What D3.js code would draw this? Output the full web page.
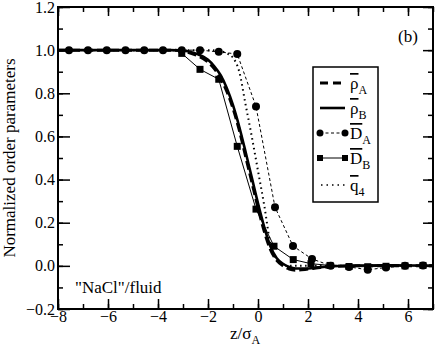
<!DOCTYPE html>
<html>
<head>
<meta charset="utf-8">
<script src="https://cdn.jsdelivr.net/npm/d3@7"></script>
<style>
body { margin: 0; background: #fff; }
svg text { font-family: "Liberation Serif", "Tinos", "DejaVu Serif", "Noto Serif", "Times New Roman", serif; fill: #000; }
</style>
</head>
<body>
<div id="chart"></div>
<script>
let width = 435;
let height = 349;
let margin = {left: 58, right: 2, top: 7, bottom: 40};
let serif = "'Liberation Serif', Tinos, 'DejaVu Serif', 'Noto Serif', 'Times New Roman', serif";

// profiles
let zRho = [-8, -7, -6, -5, -4, -3.5, -3, -2.5, -2, -1.75, -1.5, -1.25, -1, -0.75, -0.5, -0.25, 0, 0.25, 0.5, 0.75, 1, 1.25, 1.5, 2, 2.5, 3, 4, 5, 6, 7];
let rhoA = [1, 1, 1, 1, 1, 1, 0.995, 0.978, 0.945, 0.915, 0.87, 0.81, 0.73, 0.63, 0.51, 0.39, 0.27, 0.16, 0.075, 0.025, 0.0, -0.015, -0.02, -0.015, -0.008, -0.003, 0, 0, 0, 0];
let rhoB = [1, 1, 1, 1, 1, 1, 0.998, 0.985, 0.955, 0.925, 0.885, 0.825, 0.745, 0.645, 0.53, 0.41, 0.29, 0.18, 0.09, 0.035, 0.01, -0.005, -0.012, -0.012, -0.006, -0.002, 0.002, 0.003, 0.002, 0.002];

let zQ = [-8, -6, -4, -2, -1.5, -1.25, -1, -0.75, -0.5, -0.25, 0, 0.25, 0.5, 0.75, 1, 1.25, 1.5, 2, 3, 4, 5, 6, 7];
let q4 = [1, 1, 1, 1, 0.995, 0.985, 0.965, 0.9, 0.75, 0.6, 0.44, 0.28, 0.1, 0.025, 0.005, 0.0, 0.0, 0, 0, 0, 0, 0, 0];

let zDA = [-7.56, -6.8, -6.05, -5.3, -4.55, -3.8, -3.05, -2.32, -1.57, -0.83, -0.08, 0.68, 1.4, 2.16, 2.91, 3.64, 4.39, 5.12, 5.88, 6.6];
let DA = [1, 1, 1, 1, 1, 1, 1, 1, 0.992, 0.982, 0.739, 0.272, 0.092, 0.032, 0.001, -0.005, -0.018, -0.008, 0, 0.002];

let zDB = [-3.05, -2.32, -1.57, -0.83, -0.08, 0.64, 1.41, 2.12, 2.88, 3.64, 4.39, 5.12, 5.88, 6.6];
let DB = [0.985, 0.911, 0.865, 0.554, 0.263, 0.091, 0.029, 0.01, 0.002, -0.003, -0.004, -0.002, 0.0, 0.002];

let xTicks = [-8, -6, -4, -2, 0, 2, 4, 6];
let yTicks = [-0.2, 0.0, 0.2, 0.4, 0.6, 0.8, 1.0, 1.2];

let svg = d3.select("#chart").append("svg")
	.attr("width", width).attr("height", height);

let x = d3.scaleLinear().domain([-8, 7]).range([margin.left, width - margin.right]);
let y = d3.scaleLinear().domain([-0.2, 1.2]).range([height - margin.bottom, margin.top]);

let fmtY = d => d3.format(".1f")(d).replace("-", "\u2212");
let fmtX = d => String(d).replace("-", "\u2212");

// axes with inward ticks
let xMinor = d3.range(-8, 8, 1);
let yMinor = d3.range(-0.2, 1.21, 0.1);

svg.append("g").attr("transform", `translate(0,${y(-0.2)})`)
	.call(d3.axisBottom(x).tickValues(xTicks).tickSize(-10).tickPadding(2).tickFormat(fmtX));
svg.append("g").attr("transform", `translate(0,${y(-0.2)})`)
	.call(d3.axisBottom(x).tickValues(xMinor).tickSize(-5).tickFormat(""));
svg.append("g").attr("transform", `translate(0,${y(1.2)})`)
	.call(d3.axisTop(x).tickValues(xTicks).tickSize(-9).tickFormat(""));
svg.append("g").attr("transform", `translate(0,${y(1.2)})`)
	.call(d3.axisTop(x).tickValues(xMinor).tickSize(-5).tickFormat(""));

svg.append("g").attr("transform", `translate(${x(-8)},0)`)
	.call(d3.axisLeft(y).tickValues(yTicks).tickSize(-12).tickPadding(3).tickFormat(fmtY));
svg.append("g").attr("transform", `translate(${x(-8)},0)`)
	.call(d3.axisLeft(y).tickValues(yMinor).tickSize(-5).tickFormat(""));
svg.append("g").attr("transform", `translate(${x(7)},0)`)
	.call(d3.axisRight(y).tickValues(yTicks).tickSize(-10).tickFormat(""));
svg.append("g").attr("transform", `translate(${x(7)},0)`)
	.call(d3.axisRight(y).tickValues(yMinor).tickSize(-5).tickFormat(""));

svg.selectAll("g").attr("font-family", serif);
svg.selectAll(".domain").remove();
svg.selectAll(".tick line").attr("stroke", "#000").attr("stroke-width", 1.5);
svg.selectAll(".tick text").style("font-size", "16px");

svg.append("rect")
	.attr("x", x(-8)).attr("y", y(1.2))
	.attr("width", x(7) - x(-8)).attr("height", y(-0.2) - y(1.2))
	.attr("fill", "none").attr("stroke", "#000").attr("stroke-width", 2);

// curves
let smooth = d3.line().x(d => x(d[0])).y(d => y(d[1])).curve(d3.curveMonotoneX);
let straight = d3.line().x(d => x(d[0])).y(d => y(d[1]));
let plot = svg.append("g");

plot.append("path").datum(d3.zip(zQ, q4)).attr("d", smooth)
	.attr("fill", "none").attr("stroke", "#000").attr("stroke-width", 2).attr("stroke-dasharray", "1.5,3.5");
plot.append("path").datum(d3.zip(zDB, DB)).attr("d", straight)
	.attr("fill", "none").attr("stroke", "#000").attr("stroke-width", 1);
plot.append("path").datum(d3.zip(zDA, DA)).attr("d", straight)
	.attr("fill", "none").attr("stroke", "#000").attr("stroke-width", 1).attr("stroke-dasharray", "3,2.5");
plot.append("path").datum(d3.zip(zRho, rhoB)).attr("d", smooth)
	.attr("fill", "none").attr("stroke", "#000").attr("stroke-width", 2.6);
plot.append("path").datum(d3.zip(zRho, rhoA)).attr("d", smooth)
	.attr("fill", "none").attr("stroke", "#000").attr("stroke-width", 3).attr("stroke-dasharray", "9,4");

plot.selectAll(".sq").data(d3.zip(zDB, DB)).join("rect").attr("class", "sq")
	.attr("x", d => x(d[0]) - 3.5).attr("y", d => y(d[1]) - 3.5)
	.attr("width", 7).attr("height", 7).attr("fill", "#000");
plot.selectAll(".dot").data(d3.zip(zDA, DA)).join("circle").attr("class", "dot")
	.attr("cx", d => x(d[0])).attr("cy", d => y(d[1])).attr("r", 4).attr("fill", "#000");

// legend
let lg = svg.append("g");
lg.append("rect").attr("x", 313).attr("y", 67).attr("width", 65).attr("height", 135)
	.attr("fill", "#fff").attr("stroke", "#000").attr("stroke-width", 1.5);

let legendRows = [
	{sym: "\u03c1", sub: "A", y: 83},
	{sym: "\u03c1", sub: "B", y: 108},
	{sym: "D", sub: "A", y: 133},
	{sym: "D", sub: "B", y: 158},
	{sym: "q", sub: "4", y: 185}
];
let x1 = 320, x2 = 345;
lg.append("line").attr("x1", x1).attr("x2", x2).attr("y1", 83).attr("y2", 83)
	.attr("stroke", "#000").attr("stroke-width", 3).attr("stroke-dasharray", "8,5");
lg.append("line").attr("x1", x1).attr("x2", x2).attr("y1", 108).attr("y2", 108)
	.attr("stroke", "#000").attr("stroke-width", 2.6);
lg.append("line").attr("x1", x1).attr("x2", x2).attr("y1", 133).attr("y2", 133)
	.attr("stroke", "#000").attr("stroke-width", 1).attr("stroke-dasharray", "3,2.5");
lg.selectAll(".lc").data([x1, x2]).join("circle").attr("cx", d => d).attr("cy", 133).attr("r", 3.5);
lg.append("line").attr("x1", x1).attr("x2", x2).attr("y1", 158).attr("y2", 158)
	.attr("stroke", "#000").attr("stroke-width", 1);
lg.selectAll(".ls").data([x1, x2]).join("rect").attr("x", d => d - 3).attr("y", 155).attr("width", 6).attr("height", 6);
lg.append("line").attr("x1", x1 + 1).attr("x2", x2).attr("y1", 185).attr("y2", 185)
	.attr("stroke", "#000").attr("stroke-width", 1.5).attr("stroke-dasharray", "1.5,4");

legendRows.forEach(r => {
	let t = lg.append("text").attr("x", 350).attr("y", r.y + 6).style("font-size", "17px");
	t.append("tspan").text(r.sym).style("text-decoration", "overline");
	t.append("tspan").text(r.sub).attr("dy", 5).style("font-size", "12px");
});

// labels
svg.append("text").attr("transform", `translate(15,${(y(1.2) + y(-0.2)) / 2}) rotate(-90)`)
	.attr("text-anchor", "middle").style("font-size", "17px").text("Normalized order parameters");

let xl = svg.append("text").attr("x", 230).attr("y", 339).style("font-size", "17px");
xl.append("tspan").text("z/\u03c3");
xl.append("tspan").text("A").attr("dy", 5).style("font-size", "12px");

svg.append("text").attr("x", 398).attr("y", 42).style("font-size", "17px").text("(b)");
svg.append("text").attr("x", 75).attr("y", 293).style("font-size", "17px").text("\"NaCl\"/fluid");
</script>
</body>
</html>
